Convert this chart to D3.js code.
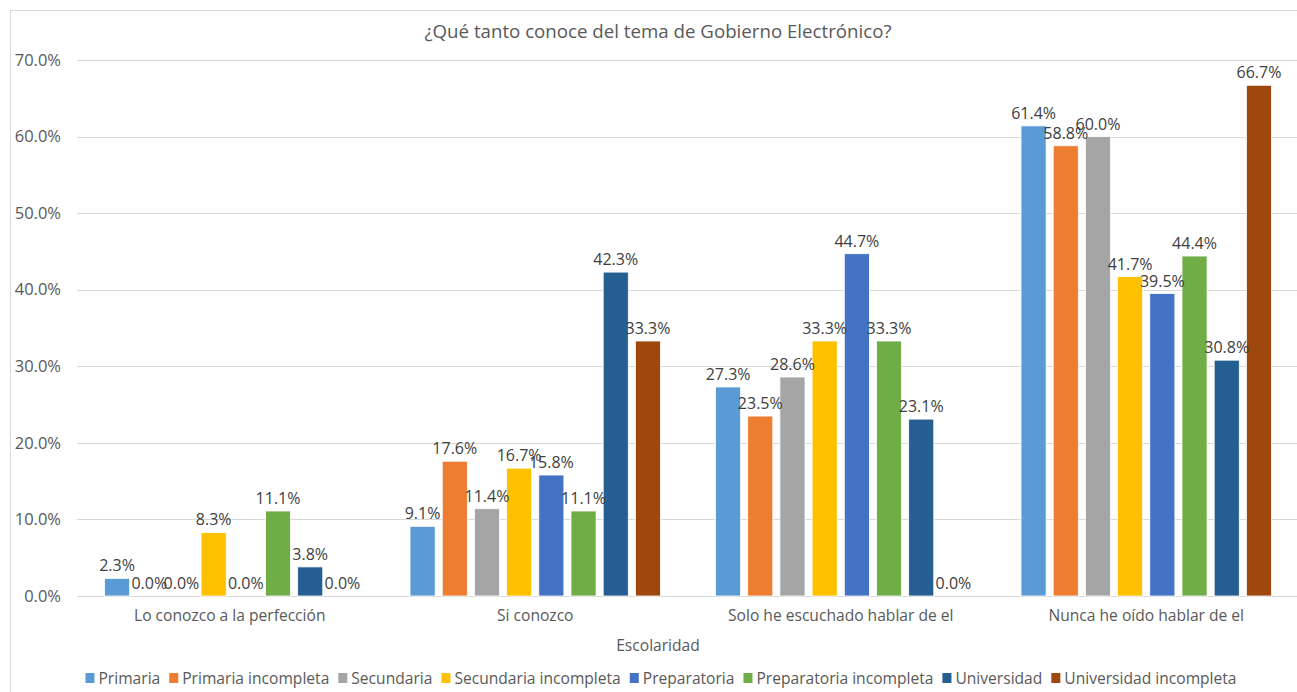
<!DOCTYPE html>
<html>
<head>
<meta charset="utf-8">
<script src="https://cdn.jsdelivr.net/npm/d3@7"></script>
<style>
  body { margin: 0; background: #fff; }
  text { font-family: "Open Sans", sans-serif; }
</style>
</head>
<body>
<svg id="chart" width="1297" height="692"></svg>
<script>
const categories = ["Lo conozco a la perfección", "Si conozco", "Solo he escuchado hablar de el", "Nunca he oído hablar de el"];
const seriesNames = ["Primaria", "Primaria incompleta", "Secundaria", "Secundaria incompleta", "Preparatoria", "Preparatoria incompleta", "Universidad", "Universidad incompleta"];
const seriesColors = ["#5B9BD5", "#ED7D31", "#A5A5A5", "#FFC000", "#4472C4", "#70AD47", "#255E91", "#9E480E"];
// one row per series, values per category (%)
const primaria = [2.3, 9.1, 27.3, 61.4];
const primariaInc = [0.0, 17.6, 23.5, 58.8];
const secundaria = [0.0, 11.4, 28.6, 60.0];
const secundariaInc = [8.3, 16.7, 33.3, 41.7];
const preparatoria = [0.0, 15.8, 44.7, 39.5];
const preparatoriaInc = [11.1, 11.1, 33.3, 44.4];
const universidad = [3.8, 42.3, 23.1, 30.8];
const universidadInc = [0.0, 33.3, 0.0, 66.7];
const yTicks = [0, 10, 20, 30, 40, 50, 60, 70];

const allValues = [primaria, primariaInc, secundaria, secundariaInc, preparatoria, preparatoriaInc, universidad, universidadInc];
const rows = [];
categories.forEach((c, ci) => {
  seriesNames.forEach((s, si) => rows.push({ cat: c, series: s, value: allValues[si][ci], color: seriesColors[si] }));
});

const svg = d3.select("#chart");
const margin = { top: 60, left: 77, right: -2, bottom: 96 };
const W = 1297, H = 692;

// chart frame
svg.append("rect").attr("x", 10.5).attr("y", 10.5).attr("width", 1300).attr("height", 700)
  .attr("fill", "none").attr("stroke", "#d9d9d9");

const x0 = d3.scaleBand().domain(categories).range([margin.left, W - margin.right]).paddingInner(0.157).paddingOuter(0.0785);
const x1 = d3.scaleBand().domain(seriesNames).range([0, x0.bandwidth()]).paddingInner(0.22).paddingOuter(0.11);
const y = d3.scaleLinear().domain([0, 70]).range([H - margin.bottom, margin.top]);

// gridlines
svg.append("g").selectAll("line").data(yTicks).join("line")
  .attr("x1", margin.left).attr("x2", W)
  .attr("y1", d => Math.round(y(d)) + 0.5).attr("y2", d => Math.round(y(d)) + 0.5)
  .attr("stroke", "#d9d9d9").attr("stroke-width", 1);

// y axis labels
const yAxis = d3.axisLeft(y).tickValues(yTicks).tickFormat(d => d.toFixed(1) + "%").tickSize(0).tickPadding(0);
const yg = svg.append("g").attr("transform", `translate(${margin.left - 16},0)`).call(yAxis);
yg.select(".domain").remove();
yg.selectAll("text").attr("fill", "#595959").style("font-size", "16.5px").style("font-family", "Open Sans, sans-serif");

// bars
const bars = svg.append("g");
bars.selectAll("rect").data(rows).join("rect")
  .attr("x", d => x0(d.cat) + x1(d.series))
  .attr("y", d => y(d.value))
  .attr("width", x1.bandwidth())
  .attr("height", d => y(0) - y(d.value))
  .attr("fill", d => d.color)
  .attr("stroke", "#fff").attr("stroke-width", 0.8);

// data labels
bars.selectAll("text").data(rows).join("text")
  .attr("x", d => x0(d.cat) + x1(d.series) + x1.bandwidth() / 2)
  .attr("y", d => y(d.value) - 7)
  .attr("text-anchor", "middle")
  .attr("fill", "#404040")
  .style("font-size", "16px")
  .text(d => d.value.toFixed(1) + "%");

// category labels
const xAxis = d3.axisBottom(x0).tickSize(0).tickPadding(14);
const xg = svg.append("g").attr("transform", `translate(0,${y(0)})`).call(xAxis);
xg.select(".domain").remove();
xg.selectAll("text").attr("fill", "#595959").style("font-size", "15.6px").style("font-family", "Open Sans, sans-serif");

// title
svg.append("text").attr("x", 658).attr("y", 38).attr("text-anchor", "middle")
  .attr("fill", "#595959").style("font-size", "18.7px")
  .text("¿Qué tanto conoce del tema de Gobierno Electrónico?");

// axis title
svg.append("text").attr("x", 658).attr("y", 651).attr("text-anchor", "middle")
  .attr("fill", "#595959").style("font-size", "15.6px").text("Escolaridad");

// legend
const legend = svg.append("g");
let lx = 0;
seriesNames.forEach((s, i) => {
  const g = legend.append("g").attr("transform", `translate(${lx},0)`);
  g.append("rect").attr("x", 0).attr("y", -11).attr("width", 9).attr("height", 10).attr("fill", seriesColors[i]);
  const t = g.append("text").attr("x", 13).attr("y", 0).attr("fill", "#595959").style("font-size", "15.6px").text(s);
  lx += 13 + t.node().getComputedTextLength() + 9;
});
const legendW = lx - 9;
legend.attr("transform", `translate(${(82 + 1240) / 2 - legendW / 2},684)`);
</script>
</body>
</html>
